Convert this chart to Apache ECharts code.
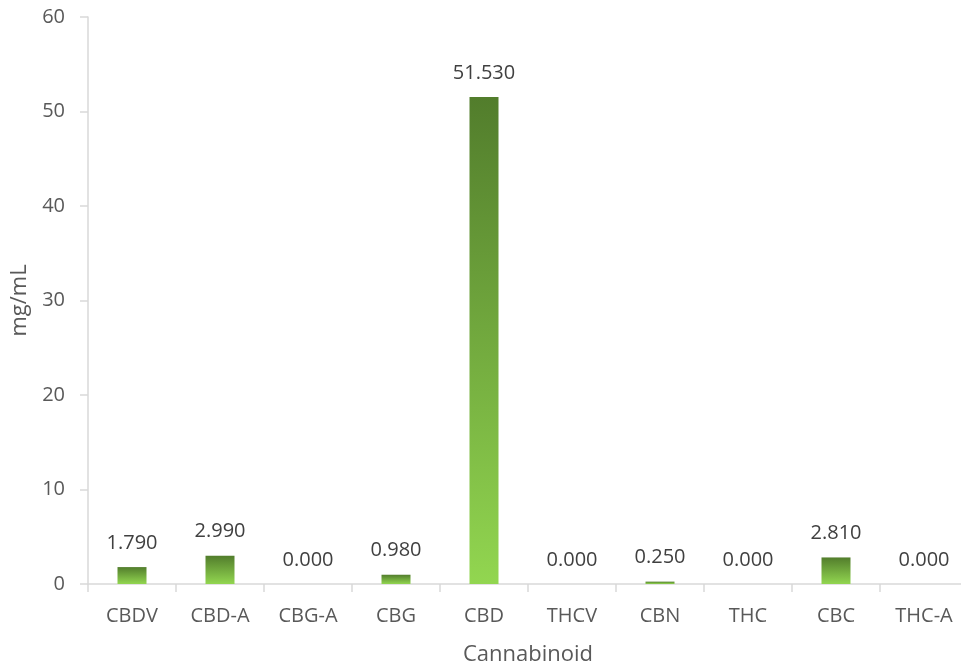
<!DOCTYPE html>
<html>
<head>
<meta charset="utf-8">
<script src="https://cdn.jsdelivr.net/npm/echarts@6/dist/echarts.min.js"></script>
<style>
html,body{margin:0;padding:0;background:#fff;}
#chart{width:961px;height:668px;}
</style>
</head>
<body>
<div id="chart"></div>
<script>
// 数据
var categories = ["CBDV", "CBD-A", "CBG-A", "CBG", "CBD", "THCV", "CBN", "THC", "CBC", "THC-A"];
var values = [1.79, 2.99, 0, 0.98, 51.53, 0, 0.25, 0, 2.81, 0];
var yTicks = [0, 10, 20, 30, 40, 50, 60];

var font = "'Open Sans', 'Noto Sans', sans-serif";
var mycharts = echarts.init(document.getElementById("chart"));
var option = {
	animation : false,
	grid : {
		left : 88,
		right : -7,
		top : 17,
		bottom : 84,
		containLabel : false,
		outerBoundsMode : 'none'
	},
	xAxis : {
		type : 'category',
		data : categories,
		name : 'Cannabinoid',
		nameLocation : 'middle',
		nameGap : 60,
		nameTextStyle : { color : '#595959', fontSize : 22, fontFamily : font },
		axisLine : { lineStyle : { color : '#d9d9d9', width : 1.5 } },
		axisTick : { show : true, length : 8, lineStyle : { color : '#d9d9d9', width : 1.5 } },
		axisLabel : { color : '#595959', fontSize : 20, fontFamily : font, margin : 22 }
	},
	yAxis : {
		type : 'value',
		min : yTicks[0],
		max : yTicks[yTicks.length - 1],
		interval : 10,
		name : 'mg/mL',
		nameLocation : 'middle',
		nameGap : 47,
		nameTextStyle : { color : '#595959', fontSize : 22, fontFamily : font },
		splitLine : { show : false },
		axisLine : { show : true, lineStyle : { color : '#d9d9d9', width : 1.5 } },
		axisTick : { show : true, length : 8, lineStyle : { color : '#d9d9d9', width : 1.5 } },
		axisLabel : { color : '#595959', fontSize : 20, fontFamily : font, margin : 23 }
	},
	series : [ {
		type : 'bar',
		data : values,
		barWidth : 29,
		itemStyle : {
			color : new echarts.graphic.LinearGradient(0, 0, 0, 1, [
				{ offset : 0, color : '#527d2c' },
				{ offset : 1, color : '#92d650' }
			])
		},
		label : {
			show : true,
			position : 'top',
			distance : 14,
			color : '#404040',
			fontSize : 20,
			fontFamily : font,
			formatter : function(p) {
				return p.value.toFixed(3);
			}
		}
	} ]
};
mycharts.setOption(option);
</script>
</body>
</html>
